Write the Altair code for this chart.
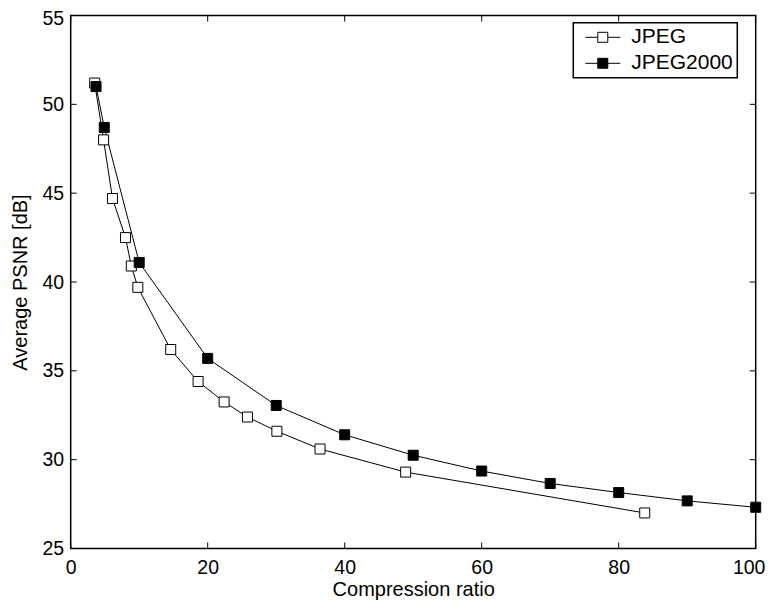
import altair as alt
import pandas as pd

# ---- data ----
series_names = ["JPEG", "JPEG2000"]
jpeg_x = [3.5, 4.8, 6.1, 8.0, 8.85, 9.8, 14.6, 18.6, 22.4, 25.8, 30.1, 36.4, 48.9, 83.8]
jpeg_y = [51.2, 48.0, 44.7, 42.5, 40.9, 39.7, 36.2, 34.4, 33.25, 32.4, 31.6, 30.6, 29.3, 27.0]
j2k_x = [3.7, 4.9, 10, 20, 30, 40, 50, 60, 70, 80, 90, 100]
j2k_y = [51.0, 48.7, 41.1, 35.7, 33.05, 31.4, 30.25, 29.36, 28.66, 28.15, 27.68, 27.32]
x_ticks = [0, 20, 40, 60, 80, 100]
y_ticks = [25, 30, 35, 40, 45, 50, 55]

df = pd.DataFrame({
    "x": jpeg_x + j2k_x,
    "y": jpeg_y + j2k_y,
    "series": [series_names[0]] * len(jpeg_x) + [series_names[1]] * len(j2k_x),
})
dfx = pd.DataFrame({"x": x_ticks})
dfy = pd.DataFrame({"y": y_ticks})

W, H = 685, 533
FONT = "Liberation Sans"
TL = 6  # inward tick length

xscale = alt.Scale(domain=[0, 100], nice=False, zero=False)
yscale = alt.Scale(domain=[25, 55], nice=False, zero=False)
xaxis = alt.Axis(values=x_ticks, title="Compression ratio", grid=False, ticks=False,
                 domain=False, labelPadding=10, titlePadding=3, labelFlush=False,
                 labelOffset={"expr": "datum.value == 100 ? -7 : 0"},
                 labelFontSize=19.5, titleFontSize=20, labelFont=FONT, titleFont=FONT,
                 titleFontWeight="normal", labelColor="black", titleColor="black")
yaxis = alt.Axis(values=y_ticks, title="Average PSNR [dB]", grid=False, ticks=False,
                 domain=False, labelPadding=7, titlePadding=12, labelFlush=False,
                 labelOffset={"expr": "datum.value == 55 ? 3 : 0"},
                 labelFontSize=19.5, titleFontSize=20, labelFont=FONT, titleFont=FONT,
                 titleFontWeight="normal", labelColor="black", titleColor="black")

X = alt.X("x:Q", scale=xscale, axis=xaxis)
Y = alt.Y("y:Q", scale=yscale, axis=yaxis)

SYMBOL = "M-1.75,0H-0.5M0.5,0H1.75M-0.5,-0.5H0.5V0.5H-0.5Z"

lines = alt.Chart(df).mark_line(color="black", strokeWidth=1).encode(
    x=X, y=Y, detail="series:N"
)
points = alt.Chart(df).mark_point(shape="square", filled=True, size=100,
                                  stroke="black", strokeWidth=1, opacity=1).encode(
    x=X, y=Y,
    fill=alt.Fill("series:N",
                  scale=alt.Scale(domain=series_names, range=["white", "black"]),
                  legend=alt.Legend(title=None, orient="none", legendX=502.6, legendY=7.3,
                                    symbolType=SYMBOL, symbolSize=400,
                                    symbolStrokeColor="black", symbolStrokeWidth=1,
                                    padding=4, symbolOffset=15, labelOffset=18,
                                    labelFontSize=21, labelFont=FONT, labelColor="black",
                                    strokeColor="black", fillColor="white", rowPadding=4)),
)

left_t = alt.Chart(dfy).mark_rule(color="black", strokeWidth=1).encode(
    y=Y, x=alt.value(0), x2=alt.value(TL))
right_t = alt.Chart(dfy).mark_rule(color="black", strokeWidth=1).encode(
    y=Y, x=alt.value(W - TL), x2=alt.value(W))
bottom_t = alt.Chart(dfx).mark_rule(color="black", strokeWidth=1).encode(
    x=X, y=alt.value(H - TL), y2=alt.value(H))
top_t = alt.Chart(dfx).mark_rule(color="black", strokeWidth=1).encode(
    x=X, y=alt.value(0), y2=alt.value(TL))

chart = alt.layer(left_t, right_t, bottom_t, top_t, lines, points).properties(
    width=W, height=H,
    autosize=alt.AutoSizeParams(type="none"),
    padding={"left": 62.7, "top": 7.5, "right": 10, "bottom": 51},
    background="white",
).configure_view(stroke="black", strokeWidth=1.5).configure_legend(strokeWidth=1.5)

chart.save("out.html", embed_options={"renderer": "svg", "actions": False})
